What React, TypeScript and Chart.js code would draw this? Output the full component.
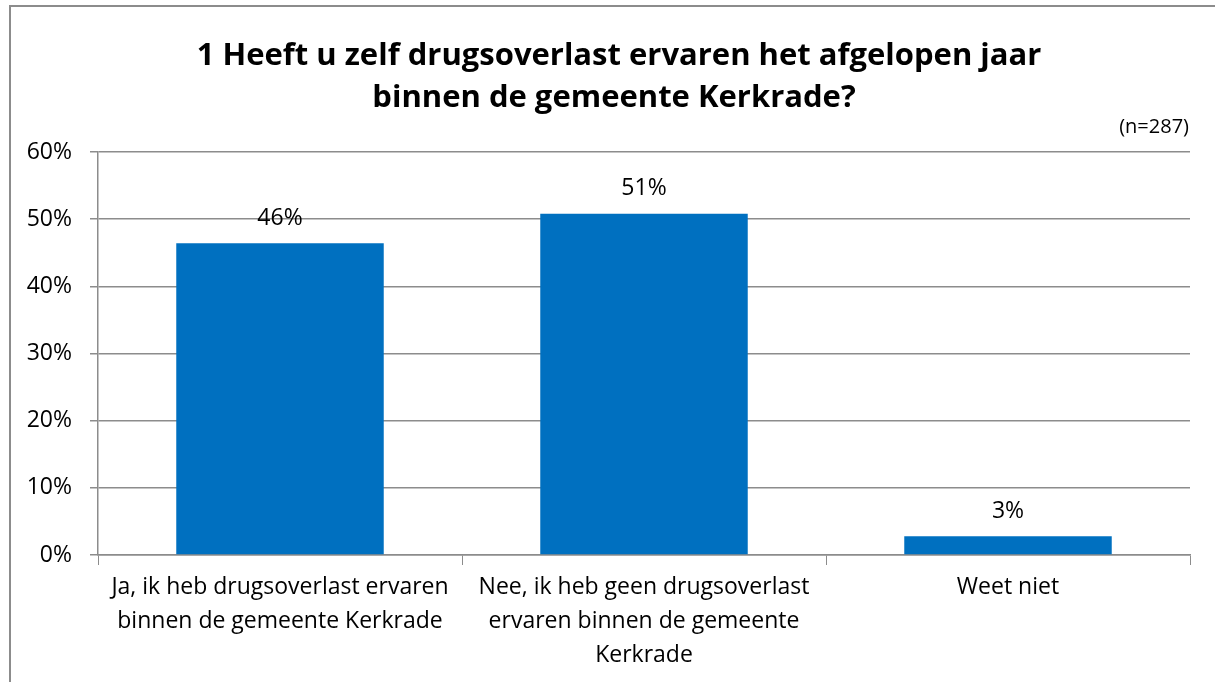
import React, { useEffect, useRef } from "react";
import { Chart, registerables } from "chart.js";

Chart.register(...registerables);

const titleLines = [
  "1 Heeft u zelf drugsoverlast ervaren het afgelopen jaar",
  "binnen de gemeente Kerkrade?",
];
const sampleNote = "(n=287)";
const categories: string[][] = [
  ["Ja, ik heb drugsoverlast ervaren", "binnen de gemeente Kerkrade"],
  ["Nee, ik heb geen drugsoverlast", "ervaren binnen de gemeente", "Kerkrade"],
  ["Weet niet"],
];
const values = [46.4, 50.8, 2.8];
const valueLabels = ["46%", "51%", "3%"];
const yTicks = [0, 10, 20, 30, 40, 50, 60];

const FONT = "'Open Sans', sans-serif";

const decorPlugin = {
  id: "decor",
  beforeDraw(chart: any) {
    const { ctx } = chart;
    ctx.save();
    ctx.fillStyle = "#ffffff";
    ctx.fillRect(0, 0, chart.width, chart.height);
    ctx.strokeStyle = "#8c8c8c";
    ctx.lineWidth = 2;
    ctx.beginPath();
    ctx.moveTo(10, chart.height);
    ctx.lineTo(10, 6);
    ctx.lineTo(chart.width, 6);
    ctx.stroke();
    ctx.restore();
  },
  afterDraw(chart: any) {
    const { ctx } = chart;
    ctx.save();
    ctx.fillStyle = "#000000";
    ctx.textAlign = "center";
    ctx.textBaseline = "middle";
    ctx.font = `bold 31px ${FONT}`;
    ctx.fillText(titleLines[0], 619, 56);
    ctx.fillText(titleLines[1], 614, 98);
    ctx.font = `20px ${FONT}`;
    ctx.textAlign = "right";
    ctx.fillText(sampleNote, 1189, 127);
    ctx.font = `23px ${FONT}`;
    ctx.textAlign = "center";
    const meta = chart.getDatasetMeta(0);
    meta.data.forEach((bar: any, i: number) => {
      ctx.fillText(valueLabels[i], bar.x, bar.y - 25);
    });
    ctx.restore();
  },
};

export default function App() {
  const ref = useRef<HTMLCanvasElement>(null);
  useEffect(() => {
    if (!ref.current) return;
    const chart = new Chart(ref.current, {
      type: "bar",
      data: {
        labels: categories,
        datasets: [
          {
            data: values,
            backgroundColor: "#0070C0",
            barPercentage: 0.57,
            categoryPercentage: 1,
          },
        ],
      },
      options: {
        responsive: false,
        animation: false,
        layout: { padding: { left: 0, right: 25, top: 152, bottom: 0 } },
        plugins: { legend: { display: false }, tooltip: { enabled: false } },
        scales: {
          x: {
            offset: true,
            grid: {
              offset: true,
              drawOnChartArea: false,
              drawTicks: true,
              tickLength: 10,
              color: "#8c8c8c",
              lineWidth: 1,
            },
            border: { display: true, color: "#8c8c8c", width: 1.5 },
            ticks: {
              color: "#000",
              font: { family: FONT, size: 23, lineHeight: 1.48 },
              padding: 5,
              maxRotation: 0,
              autoSkip: false,
            },
            afterFit: (s: any) => {
              s.height = 682 - 555;
            },
          },
          y: {
            min: 0,
            max: 60,
            afterBuildTicks: (s: any) => {
              s.ticks = yTicks.map((v) => ({ value: v }));
            },
            grid: {
              color: "#8c8c8c",
              lineWidth: 1.5,
              tickLength: 8,
            },
            border: { display: true, color: "#8c8c8c", width: 1.5 },
            ticks: {
              color: "#000",
              font: { family: FONT, size: 23 },
              padding: 18,
              callback: (v: any) => `${v}%`,
            },
            afterFit: (s: any) => {
              s.width = 98;
            },
          },
        },
      },
      plugins: [decorPlugin],
    });
    return () => chart.destroy();
  }, []);
  return (
    <div style={{ position: "fixed", left: 0, top: 0, width: 1215, height: 682 }}>
      <canvas ref={ref} width={1215} height={682} style={{ display: "block" }} />
    </div>
  );
}
